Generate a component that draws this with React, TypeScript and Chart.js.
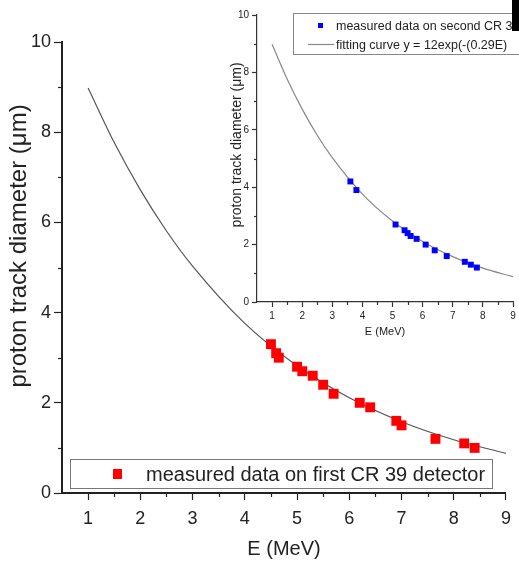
import React, { useEffect, useRef } from "react";
import { Chart, registerables } from "chart.js";
Chart.register(...registerables);

const FONT = '"Liberation Sans", Arial, sans-serif';

// first CR 39 detector (main chart)
const mainEnergy = [4.5, 4.6, 4.65, 5.0, 5.1, 5.3, 5.5, 5.7, 6.2, 6.4, 6.9, 7.0, 7.65, 8.2, 8.4];
const mainDiameter = [3.3, 3.1, 3.0, 2.8, 2.7, 2.6, 2.4, 2.2, 2.0, 1.9, 1.6, 1.5, 1.2, 1.1, 1.0];
// second CR 39 detector (inset)
const insetEnergy = [3.6, 3.8, 5.1, 5.4, 5.5, 5.6, 5.8, 6.1, 6.4, 6.8, 7.4, 7.6, 7.8];
const insetDiameter = [4.2, 3.9, 2.7, 2.5, 2.4, 2.3, 2.2, 2.0, 1.8, 1.6, 1.4, 1.3, 1.2];
// fitting curve
const fitEnergy = [1, 1.5, 2, 2.5, 3, 4, 5, 6, 7, 8, 9];
const fitDiameter = [8.98, 7.77, 6.72, 5.81, 5.03, 3.76, 2.82, 2.11, 1.58, 1.18, 0.88];

const xMajorTicks = [1, 2, 3, 4, 5, 6, 7, 8, 9];
const xMinorTicks = [1.5, 2.5, 3.5, 4.5, 5.5, 6.5, 7.5, 8.5];
const yMajorTicks = [0, 2, 4, 6, 8, 10];
const yMinorTicks = [1, 3, 5, 7, 9];

const yTitle = "proton track diameter (\u03bcm)";
const xTitle = "E (MeV)";
const mainLegend = "measured data on first CR 39 detector";
const insetLegend1 = "measured data on second CR 39 detector";
const insetLegend2 = "fitting curve y = 12exp(-(0.29E)";

type Spec = {
  padding: { left: number; top: number; right: number; bottom: number };
  yWidth: number;
  xHeight: number;
  tickFont: number;
  tickLenX: number;
  tickLenY: number;
  minorLen: number;
  padX: number;
  padY: number;
  axisWidth: number;
  axisColor: string;
  xTitleSize: number;
  xTitlePadBottom: number;
  yTitlePos: { x: number; y: number; size: number };
  pointRadius: number;
  pointColor: string;
  energies: number[];
  diameters: number[];
  curveColor: string;
  drawLegend: (ctx: CanvasRenderingContext2D) => void;
};

function makeChart(canvas: HTMLCanvasElement, s: Spec) {
  const extras = {
    id: "extras",
    afterDraw(chart: any) {
      const ctx = chart.ctx as CanvasRenderingContext2D;
      const xs = chart.scales.x;
      const ys = chart.scales.y;
      const ca = chart.chartArea;
      ctx.save();
      ctx.strokeStyle = s.axisColor;
      ctx.lineWidth = 1.2;
      xMinorTicks.forEach((v) => {
        const px = Math.round(xs.getPixelForValue(v)) + 0.5;
        ctx.beginPath();
        ctx.moveTo(px, ca.bottom);
        ctx.lineTo(px, ca.bottom + s.minorLen);
        ctx.stroke();
      });
      yMinorTicks.forEach((v) => {
        const py = Math.round(ys.getPixelForValue(v)) + 0.5;
        ctx.beginPath();
        ctx.moveTo(ca.left - s.minorLen, py);
        ctx.lineTo(ca.left, py);
        ctx.stroke();
      });
      // y axis title
      ctx.translate(s.yTitlePos.x, s.yTitlePos.y);
      ctx.rotate(-Math.PI / 2);
      ctx.font = `${s.yTitlePos.size}px ${FONT}`;
      ctx.fillStyle = "#222";
      ctx.textAlign = "center";
      ctx.textBaseline = "middle";
      ctx.fillText(yTitle, 0, 0);
      ctx.restore();
      ctx.save();
      s.drawLegend(ctx);
      ctx.restore();
    },
  };

  return new Chart(canvas, {
    type: "scatter",
    data: {
      datasets: [
        {
          label: "measured",
          data: s.energies.map((e, i) => ({ x: e, y: s.diameters[i] })),
          pointStyle: "rect",
          pointRadius: s.pointRadius,
          pointBackgroundColor: s.pointColor,
          pointBorderWidth: 0,
          showLine: false,
        },
        {
          label: "fit",
          data: fitEnergy.map((e, i) => ({ x: e, y: fitDiameter[i] })),
          showLine: true,
          borderColor: s.curveColor,
          borderWidth: 1.2,
          pointRadius: 0,
          cubicInterpolationMode: "monotone",
          fill: false,
        },
      ],
    },
    options: {
      animation: false,
      responsive: false,
      maintainAspectRatio: false,
      events: [],
      layout: { padding: s.padding },
      plugins: { legend: { display: false }, tooltip: { enabled: false } },
      scales: {
        x: {
          type: "linear",
          min: 0.5,
          max: 9,
          afterBuildTicks: (sc: any) => {
            sc.ticks = xMajorTicks.map((v) => ({ value: v }));
          },
          afterFit: (sc: any) => {
            sc.height = s.xHeight;
          },
          grid: {
            drawOnChartArea: false,
            drawTicks: true,
            tickLength: s.tickLenX,
            tickWidth: 1.2,
            tickColor: s.axisColor,
          },
          border: { display: true, color: s.axisColor, width: s.axisWidth },
          ticks: {
            font: { family: FONT, size: s.tickFont },
            color: "#222",
            padding: s.padX,
            maxRotation: 0,
            autoSkip: false,
          },
          title: {
            display: true,
            text: xTitle,
            font: { family: FONT, size: s.xTitleSize },
            color: "#222",
            padding: { top: 0, bottom: s.xTitlePadBottom },
          },
        },
        y: {
          type: "linear",
          min: 0,
          max: 10,
          afterBuildTicks: (sc: any) => {
            sc.ticks = yMajorTicks.map((v) => ({ value: v }));
          },
          afterFit: (sc: any) => {
            sc.width = s.yWidth;
          },
          grid: {
            drawOnChartArea: false,
            drawTicks: true,
            tickLength: s.tickLenY,
            tickWidth: 1.2,
            tickColor: s.axisColor,
          },
          border: { display: true, color: s.axisColor, width: s.axisWidth },
          ticks: {
            font: { family: FONT, size: s.tickFont },
            color: "#222",
            padding: s.padY,
            autoSkip: false,
          },
        },
      },
    },
    plugins: [extras],
  } as any);
}

const mainSpec: Spec = {
  padding: { left: 0, top: 42, right: 10, bottom: 0 },
  yWidth: 62,
  xHeight: 68,
  tickFont: 18,
  tickLenX: 7,
  tickLenY: 8,
  minorLen: 4,
  padX: 8,
  padY: 3,
  axisWidth: 2,
  axisColor: "#222",
  xTitleSize: 20,
  xTitlePadBottom: 0,
  yTitlePos: { x: 19, y: 246, size: 24 },
  pointRadius: 7,
  pointColor: "#ff0000",
  energies: mainEnergy,
  diameters: mainDiameter,
  curveColor: "#555",
  drawLegend: (ctx) => {
    ctx.fillStyle = "#fff";
    ctx.fillRect(70, 459, 422, 29);
    ctx.strokeStyle = "#777";
    ctx.lineWidth = 1;
    ctx.strokeRect(70.5, 459.5, 422, 29);
    ctx.fillStyle = "#ff0000";
    ctx.fillRect(113, 469, 9, 10);
    ctx.fillStyle = "#222";
    ctx.font = `20px ${FONT}`;
    ctx.textBaseline = "alphabetic";
    ctx.textAlign = "left";
    ctx.fillText(mainLegend, 146, 481);
  },
};

const insetSpec: Spec = {
  padding: { left: 200, top: 15, right: 6, bottom: 219 },
  yWidth: 57,
  xHeight: 40,
  tickFont: 10,
  tickLenX: 5,
  tickLenY: 5,
  minorLen: 3,
  padX: 3,
  padY: 3,
  axisWidth: 1.2,
  axisColor: "#333",
  xTitleSize: 11,
  xTitlePadBottom: 3,
  yTitlePos: { x: 237, y: 145, size: 14 },
  pointRadius: 4.2,
  pointColor: "#0000ff",
  energies: insetEnergy,
  diameters: insetDiameter,
  curveColor: "#888",
  drawLegend: (ctx) => {
    ctx.fillStyle = "#fff";
    ctx.fillRect(293, 13, 240, 41);
    ctx.strokeStyle = "#888";
    ctx.lineWidth = 1;
    ctx.strokeRect(293.5, 13.5, 240, 41);
    ctx.fillStyle = "#0000ff";
    ctx.fillRect(318, 23, 5, 5);
    ctx.strokeStyle = "#888";
    ctx.lineWidth = 1.2;
    ctx.beginPath();
    ctx.moveTo(308, 44.5);
    ctx.lineTo(334, 44.5);
    ctx.stroke();
    ctx.fillStyle = "#222";
    ctx.font = `12.5px ${FONT}`;
    ctx.textBaseline = "alphabetic";
    ctx.textAlign = "left";
    ctx.fillText(insetLegend1, 336, 30);
    ctx.fillText(insetLegend2, 336, 49);
  },
};

export default function App() {
  const mainRef = useRef<HTMLCanvasElement>(null);
  const insetRef = useRef<HTMLCanvasElement>(null);
  useEffect(() => {
    const a = makeChart(mainRef.current!, mainSpec);
    const b = makeChart(insetRef.current!, insetSpec);
    return () => {
      a.destroy();
      b.destroy();
    };
  }, []);
  const cstyle: React.CSSProperties = {
    position: "absolute",
    left: 0,
    top: 0,
    width: 519,
    height: 561,
  };
  return (
    <div
      style={{
        position: "fixed",
        left: 0,
        top: 0,
        width: 519,
        height: 561,
        background: "#fff",
        overflow: "hidden",
      }}
    >
      <canvas ref={mainRef} width={519} height={561} style={cstyle} />
      <canvas ref={insetRef} width={519} height={561} style={cstyle} />
      <div
        style={{
          position: "absolute",
          left: 512,
          top: 0,
          width: 7,
          height: 31,
          background: "#000",
        }}
      />
    </div>
  );
}
